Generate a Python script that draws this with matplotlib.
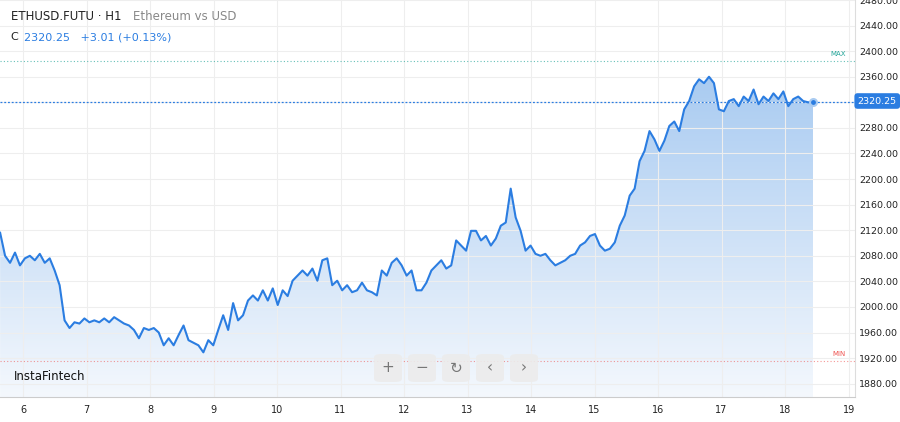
import numpy as np
import matplotlib.pyplot as plt
from matplotlib.patches import FancyBboxPatch, PathPatch
from matplotlib.path import Path
from matplotlib.colors import LinearSegmentedColormap

# ETHUSD hourly-ish close prices, day 5.64 .. 18.44
prices = [
    2116, 2080, 2069, 2085, 2065, 2076, 2080, 2073, 2083, 2069, 2076, 2057, 2034, 1979, 1967, 1976,
    1974, 1982, 1976, 1979, 1976, 1982, 1976, 1984, 1979, 1974, 1971, 1964, 1951, 1967, 1964, 1967,
    1960, 1940, 1951, 1940, 1956, 1971, 1948, 1944, 1940, 1929, 1948, 1940, 1964, 1987, 1964, 2006,
    1979, 1987, 2010, 2018, 2010, 2026, 2010, 2029, 2003, 2026, 2017, 2041, 2049, 2057, 2049, 2060,
    2041, 2073, 2076, 2034, 2041, 2026, 2034, 2023, 2026, 2038, 2026, 2023, 2018, 2057, 2049, 2069,
    2076, 2065, 2049, 2057, 2026, 2026, 2038, 2057, 2065, 2073, 2060, 2065, 2104, 2096, 2088, 2119,
    2119, 2104, 2111, 2096, 2107, 2127, 2132, 2185, 2140, 2119, 2088, 2096, 2083, 2080, 2083, 2073,
    2065, 2069, 2073, 2080, 2083, 2096, 2101, 2111, 2114, 2096, 2088,
    2091, 2101, 2127, 2143, 2174, 2185, 2228, 2244, 2275, 2262, 2244, 2260, 2283, 2290, 2275, 2309,
    2322, 2345, 2356, 2350, 2360, 2350, 2309, 2306, 2322, 2325, 2314, 2329, 2322, 2340, 2317, 2329,
    2322, 2334, 2325, 2337, 2314, 2325, 2329, 2322, 2320, 2320,
]
t_start, t_end = 5.64, 18.44
last_price = "2320.25"
max_level, min_level = 2385, 1915
y_ticks = [1880, 1920, 1960, 2000, 2040, 2080, 2120, 2160, 2200, 2240, 2280, 2320, 2360, 2400, 2440, 2480]
x_ticks = list(range(6, 20))

t = np.linspace(t_start, t_end, len(prices))
blue = "#2b7de1"

fig = plt.figure(figsize=(9, 4.22), dpi=100)
ax = fig.add_axes([0, 0.059, 0.95, 0.941])
ax.set_xlim(5.638, 19.10)
ax.set_ylim(1859, 2477)

# gradient fill under the line
grad = np.linspace(0, 1, 256).reshape(-1, 1)
cmap = LinearSegmentedColormap.from_list("g", ["#f4f8fd", "#a9cbf1"])
im = ax.imshow(grad, cmap=cmap, extent=[t_start, t_end, 1859, 2360], origin="lower",
               aspect="auto", zorder=1)
verts = list(zip(t, prices)) + [(t_end, 1859), (t_start, 1859)]
clip = PathPatch(Path(verts), transform=ax.transData, facecolor="none", edgecolor="none")
ax.add_patch(clip)
im.set_clip_path(clip)

ax.plot(t, prices, color=blue, lw=1.5, zorder=3)
ax.plot(t[-1], prices[-1], "o", ms=5, color=blue, mec="#a9cbf1", mew=1.5, zorder=4)

ax.axhline(float(last_price), color=blue, lw=0.9, ls=(0, (1.5, 1.5)), zorder=2)
ax.axhline(max_level, color="#26a69a", lw=0.8, ls=(0, (1, 2)), alpha=0.7)
ax.axhline(min_level, color="#ef5350", lw=0.8, ls=(0, (1, 2)), alpha=0.6)
ax.text(18.95, max_level + 6, "MAX", color="#26a69a", fontsize=5, ha="right", va="bottom")
ax.text(18.95, min_level + 6, "MIN", color="#ef5350", fontsize=5, ha="right", va="bottom")

ax.set_xticks(x_ticks)
ax.set_yticks(y_ticks)
ax.yaxis.tick_right()
ax.set_yticklabels(["" if v == 2320 else f"{v:.2f}" for v in y_ticks])
ax.tick_params(axis="y", length=0, labelsize=6.8, colors="#222222", pad=3)
ax.tick_params(axis="x", length=0, labelsize=7, colors="#222222", pad=6)
ax.grid(color="#eeeeee", lw=0.8, zorder=0)
for s in ["top", "left"]:
    ax.spines[s].set_visible(False)
ax.spines["bottom"].set_color("#cccccc")
ax.spines["right"].set_color("#dddddd")

fig.text(0.953, 1 - 101 / 422, last_price, color="white", fontsize=6.8, va="center",
         bbox=dict(boxstyle="round,pad=0.35", fc=blue, ec="none"))

fig.text(0.012, 0.96, "ETHUSD.FUTU · H1", fontsize=8.5, color="#222222", va="center")
fig.text(0.148, 0.96, "Ethereum vs USD", fontsize=8.5, color="#888888", va="center")
fig.text(0.012, 0.912, "C", fontsize=8, color="#222222", va="center")
fig.text(0.027, 0.912, "2320.25   +3.01 (+0.13%)", fontsize=8, color=blue, va="center")
fig.text(0.015, 0.108, "InstaFintech", fontsize=8.5, color="#111111", va="center")

# zoom/navigation buttons
symbols = ["+", "−", "↻", "‹", "›"]
for i, s in enumerate(symbols):
    x0 = 374 + i * 34
    fig.patches.append(FancyBboxPatch((x0 / 900, 1 - 382 / 422), 28 / 900, 28 / 422,
                                      boxstyle="round,pad=0,rounding_size=0.008",
                                      transform=fig.transFigure, fc="#ececec", ec="none",
                                      alpha=0.9, zorder=5))
    fig.text((x0 + 14) / 900, 1 - 368 / 422, s, fontsize=11, color="#777777",
             ha="center", va="center", zorder=6)

fig.savefig("out.png", dpi=100)
